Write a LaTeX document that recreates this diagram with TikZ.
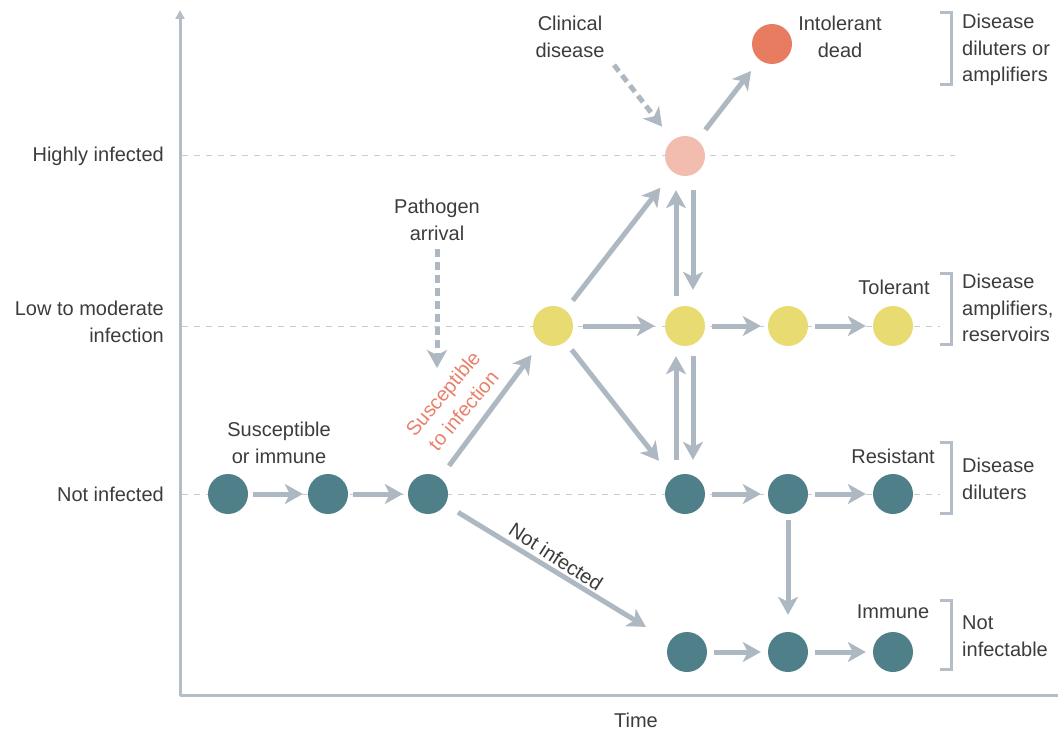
\documentclass[tikz,border=0pt]{standalone}
\usepackage{fontspec}
\setmainfont{Liberation Sans}
\usetikzlibrary{arrows.meta}
\definecolor{txt}{HTML}{3C3C3C}
\definecolor{arrc}{HTML}{AEB8C2}
\definecolor{axc}{HTML}{B4BEC8}
\definecolor{dashc}{HTML}{C8CCD0}
\definecolor{teal}{HTML}{4F7F89}
\definecolor{yel}{HTML}{E8DB72}
\definecolor{pink}{HTML}{F2BDAF}
\definecolor{dead}{HTML}{E77C60}
\definecolor{redt}{HTML}{E8806A}
\tikzset{
  dot/.style={circle,minimum size=40pt,inner sep=0pt,draw=none},
  tdot/.style={dot,fill=teal},
  ydot/.style={dot,fill=yel},
  arr/.style={draw=arrc,line width=5pt,-{Stealth[length=18pt,width=20pt,inset=5pt]}},
  darr/.style={arr,dash pattern=on 8pt off 5pt},
  lab/.style={text=txt,font=\fontsize{20}{26.5}\selectfont,align=center,inner sep=0pt},
  guide/.style={draw=dashc,line width=1pt,dash pattern=on 6pt off 6pt},
  brk/.style={draw=axc,line width=3pt},
}
\begin{document}
\begin{tikzpicture}[x=1pt,y=-1pt]
\useasboundingbox (0,0) rectangle (1058,733);
% guides
\draw[guide] (182,156) -- (955,156);
\draw[guide] (182,326) -- (940,326);
\draw[guide] (182,494) -- (940,494);
% axes
\draw[draw=axc,line width=3pt,-{Triangle[length=9pt,width=9pt]}] (180,696) -- (180,10);
\draw[draw=axc,line width=3pt] (180,695) -- (1058,695);
% axis labels
\node[lab,anchor=east] (lh) at (164,156) {Highly infected};
\node[lab,anchor=east,align=right] (ll) at (164,322) {Low to moderate\\infection};
\node[lab,anchor=east] (ln) at (164,494) {Not infected};
\node[lab] (time) at (636,720) {Time};
% dots
\node[tdot] (a1) at (228,494) {};
\node[tdot] (a2) at (328,494) {};
\node[tdot] (a3) at (428,494) {};
\node[tdot] (r1) at (685,494) {};
\node[tdot] (r2) at (788,494) {};
\node[tdot] (r3) at (893,494) {};
\node[tdot] (m1) at (687,652) {};
\node[tdot] (m2) at (788,652) {};
\node[tdot] (m3) at (893,652) {};
\node[ydot] (y0) at (553,326) {};
\node[ydot] (y1) at (685,326) {};
\node[ydot] (y2) at (788,326) {};
\node[ydot] (y3) at (893,326) {};
\node[dot,fill=pink] (p) at (685,156) {};
\node[dot,fill=dead] (d) at (772,44) {};
% labels
\node[lab] (clin) at (570,37) {Clinical\\disease};
\node[lab] (intol) at (840,37) {Intolerant\\dead};
\node[lab] (path) at (437,220) {Pathogen\\arrival};
\node[lab] (sus) at (279,443) {Susceptible\\or immune};
\node[lab] (tol) at (894,287) {Tolerant};
\node[lab] (res) at (893,456) {Resistant};
\node[lab] (imm) at (893,612) {Immune};
\node[lab,text=redt,rotate=50] (sti) at (453,402) {Susceptible\\to infection};
\node[lab,rotate=-33] (nit) at (556,557) {Not infected};
% brackets
\draw[brk] (940,13) -- (951,13) -- (951,85) -- (940,85);
\draw[brk] (940,273) -- (951,273) -- (951,344) -- (940,344);
\draw[brk] (940,442) -- (951,442) -- (951,513) -- (940,513);
\draw[brk] (940,600) -- (951,600) -- (951,669) -- (940,669);
\node[lab,align=left,anchor=west] (b1) at (962,50) {Disease\\diluters or\\amplifiers};
\node[lab,align=left,anchor=west] (b2) at (962,308) {Disease\\amplifiers,\\reservoirs};
\node[lab,align=left,anchor=west] (b3) at (962,479) {Disease\\diluters};
\node[lab,align=left,anchor=west] (b4) at (962,636) {Not\\infectable};
% horizontal arrows
\draw[arr,shorten <=5pt,shorten >=5pt] (a1) -- (a2);
\draw[arr,shorten <=5pt,shorten >=5pt] (a2) -- (a3);
\draw[arr,shorten <=7pt,shorten >=7pt] (r1) -- (r2);
\draw[arr,shorten <=7pt,shorten >=7pt] (r2) -- (r3);
\draw[arr,shorten <=7pt,shorten >=7pt] (m1) -- (m2);
\draw[arr,shorten <=7pt,shorten >=7pt] (m2) -- (m3);
\draw[arr,shorten <=10pt,shorten >=10pt] (y0) -- (y1);
\draw[arr,shorten <=7pt,shorten >=7pt] (y1) -- (y2);
\draw[arr,shorten <=7pt,shorten >=7pt] (y2) -- (y3);
% diagonals
\draw[arr,shorten <=15pt,shorten >=16pt] (a3) -- (y0);
\draw[arr,shorten <=12pt,shorten >=20pt] (y0) -- (p);
\draw[arr,shorten <=10pt,shorten >=22pt] (y0) -- (r1);
\draw[arr,shorten <=13pt,shorten >=14pt] (p) -- (d);
\draw[arr,shorten <=15pt,shorten >=28pt] (a3) -- (m1);
% verticals
\draw[arr,shorten <=10pt,shorten >=14pt] ([xshift=-9pt]y1.north) -- ([xshift=-9pt]p.south);
\draw[arr,shorten <=14pt,shorten >=16pt] ([xshift=8pt]p.south) -- ([xshift=8pt]y1.north);
\draw[arr,shorten <=14pt,shorten >=10pt] ([xshift=-9pt]r1.north) -- ([xshift=-9pt]y1.south);
\draw[arr,shorten <=10pt,shorten >=14pt] ([xshift=8pt]y1.south) -- ([xshift=8pt]r1.north);
\draw[arr,shorten <=6pt,shorten >=17pt] (r2) -- (m2);
% dashed
\coordinate (cs) at (614,65);
\draw[darr,shorten >=17pt] (cs) -- (p);
\coordinate (pe) at (437,368);
\draw[darr] ([yshift=-8pt]path.south) -- (pe);
\end{tikzpicture}
\end{document}
